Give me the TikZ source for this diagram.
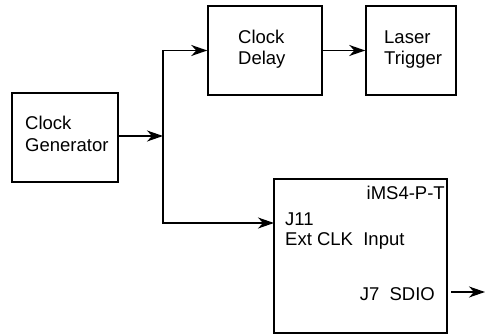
\documentclass[tikz,border=0pt]{standalone}
\usepackage{fontspec}
\setmainfont{Liberation Sans}
\usetikzlibrary{arrows.meta}
\begin{document}
\begin{tikzpicture}[x=1pt,y=-1pt,
  blk/.style={draw,line width=1.5pt,minimum width=#1,inner sep=0pt,minimum height=89pt},
  lbl/.style={inner sep=0pt,font=\fontsize{18.5}{20.5}\selectfont},
  wire/.style={line width=1.5pt,-{Stealth[length=16pt,width=11pt,inset=5pt]}}]
\useasboundingbox (0,0) rectangle (487,334);
% blocks
\node[blk=106pt] (gen) at (65,137.5) {};
\node[blk=114pt] (dly) at (265,50.5) {};
\node[blk=90pt] (trg) at (411,50.5) {};
\node[draw,line width=1.5pt,minimum width=173pt,minimum height=154pt,inner sep=0pt] (ims) at (360.5,256) {};
% block titles
\node[lbl,anchor=base west] (gen1) at (25,130) {Clock};
\node[lbl,anchor=base west] (gen2) at (25,151) {Generator};
\node[lbl,anchor=base west] (dly1) at (238,44) {Clock};
\node[lbl,anchor=base west] (dly2) at (238,65) {Delay};
\node[lbl,anchor=base west] (trg1) at (384,44) {Laser};
\node[lbl,anchor=base west] (trg2) at (384,65) {Trigger};
% labels inside the iMS4-P-T block
\node[lbl,anchor=base east] (name) at (445,199) {iMS4-P-T};
\node[lbl,anchor=base west] (j11) at (285,225) {J11};
\node[lbl,anchor=base west] (ext) at (285,245) {Ext CLK\ \ Input};
\node[lbl,anchor=base east] (sdio) at (435,300) {J7\ \ SDIO};
% connector points
\coordinate (split) at (163,136);
\coordinate (clkin) at (274,223);
\coordinate (sdiostart) at (451,292);
\coordinate (sdioout) at (485,292);
% connectors
\draw[wire] (gen.east |- split) -- (split);
\draw[wire] (split) |- (dly.west);
\draw[wire] (split) |- (clkin);
\draw[wire] (dly.east) -- (trg.west);
\draw[wire] (sdiostart) -- (sdioout);
\end{tikzpicture}
\end{document}
